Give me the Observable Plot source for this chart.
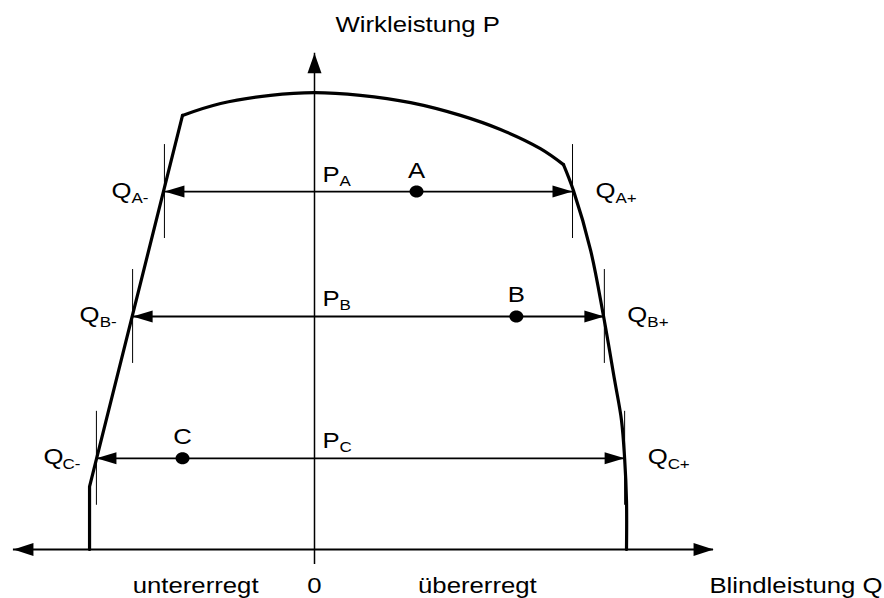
<!DOCTYPE html>
<html><head><meta charset="utf-8">
<script src="https://cdn.jsdelivr.net/npm/d3@7"></script>
<script src="https://cdn.jsdelivr.net/npm/@observablehq/plot@0.6"></script>
<style>html,body{margin:0;padding:0;background:#fff;overflow:hidden} #chart svg{display:block}</style>
</head><body><div id="chart"></div>
<script>
// Operating points (Q reactive power, P active power, normalised)
const rowNames = ["A", "B", "C"];
const rowP = [0.785, 0.511, 0.2];
const rowQMinus = [-0.481, -0.583, -0.699];
const rowQPlus = [0.827, 0.929, 0.994];
const pointQ = [0.327, 0.647, -0.423];

// Capability curve, three pieces
const leftQ = [-0.721, -0.721, -0.423];
const leftP = [0, 0.138, 0.952];
const topQ = [-0.423, -0.301, -0.141, 0, 0.147, 0.308, 0.468, 0.596, 0.724, 0.798];
const topP = [0.952, 0.978, 0.996, 1.002, 0.996, 0.980, 0.952, 0.921, 0.879, 0.844];
const rightQ = [0.798, 0.830, 0.885, 0.926, 0.962, 0.984, 0.994, 1.0, 1.0];
const rightP = [0.844, 0.787, 0.656, 0.513, 0.371, 0.283, 0.2, 0.107, 0];

// Axis extents
const axisQ = [-0.965, 1.279];
const axisP = [-0.033, 1.088];

// Texts
const bottomLabels = ["untererregt", "0", "übererregt"];
const bottomLabelQ = [-0.381, 0, 0.522];
const titleP = "Wirkleistung P";
const titleQ = "Blindleistung Q";
const titleQPos = 1.8205;

const idx = d3.range(rowNames.length);
const tickHalf = 0.103;
const FS = 22, SUB = 14.5;
const font = "'Liberation Sans', Arial, Helvetica, sans-serif";
const T = {fontFamily: font, fill: "black", lineAnchor: "bottom"};

function arrowSymbol(dx, dy, L, W) {
  return {draw(ctx) {
    const bx = -dx * L, by = -dy * L, px = -dy * W, py = dx * W;
    ctx.moveTo(0, 0); ctx.lineTo(bx + px, by + py); ctx.lineTo(bx - px, by - py); ctx.closePath();
  }};
}
const arrowRight = arrowSymbol(1, 0, 20, 6);
const arrowLeft = arrowSymbol(-1, 0, 20, 6);
const axRight = arrowSymbol(1, 0, 20, 6.5);
const axLeft = arrowSymbol(-1, 0, 20, 6.5);
const axUp = arrowSymbol(0, -1, 20, 7);
const ellipse = {draw(ctx) {
  const rx = 7, ry = 6, k = 0.5523;
  ctx.moveTo(rx, 0);
  ctx.bezierCurveTo(rx, ry * k, rx * k, ry, 0, ry);
  ctx.bezierCurveTo(-rx * k, ry, -rx, ry * k, -rx, 0);
  ctx.bezierCurveTo(-rx, -ry * k, -rx * k, -ry, 0, -ry);
  ctx.bezierCurveTo(rx * k, -ry, rx, -ry * k, rx, 0);
  ctx.closePath();
}};

const leftSeg = leftQ.map((q, i) => ({q, p: leftP[i]}));
const topSeg = topQ.map((q, i) => ({q, p: topP[i]}));
const rightSeg = rightQ.map((q, i) => ({q, p: rightP[i]}));
const curveStyle = {x: "q", y: "p", stroke: "black", strokeWidth: 3.2, strokeLinejoin: "round", strokeLinecap: "round"};

const svg = Plot.plot({
  width: 884, height: 598, margin: 0,
  x: {domain: [-1.00641, 1.82692], axis: null},
  y: {domain: [-0.10746, 1.20395], axis: null},
  style: {background: "white", color: "black"},
  marks: [
    // axes
    Plot.ruleX([0], {x: d => d, y1: axisP[0], y2: axisP[1], stroke: "black", strokeWidth: 1.5}),
    Plot.ruleY([0], {y: d => d, x1: axisQ[0], x2: axisQ[1], stroke: "black", strokeWidth: 1.8}),
    Plot.dot([{q: 0, p: axisP[1]}], {x: "q", y: "p", symbol: axUp, fill: "black", stroke: null}),
    Plot.dot([{q: axisQ[0], p: 0}], {x: "q", y: "p", symbol: axLeft, fill: "black", stroke: null}),
    Plot.dot([{q: axisQ[1], p: 0}], {x: "q", y: "p", symbol: axRight, fill: "black", stroke: null}),
    // capability curve
    Plot.line(leftSeg, {...curveStyle, curve: "linear"}),
    Plot.line(topSeg, {...curveStyle, curve: "catmull-rom"}),
    Plot.line(rightSeg, {...curveStyle, curve: "catmull-rom"}),
    // row arrows
    Plot.ruleY(idx, {y: d => rowP[d], x1: d => rowQMinus[d], x2: d => rowQPlus[d], stroke: "black", strokeWidth: 1.8}),
    Plot.ruleX(idx, {x: d => rowQMinus[d], y1: d => rowP[d] - tickHalf, y2: d => rowP[d] + tickHalf, stroke: "black", strokeWidth: 1}),
    Plot.ruleX(idx, {x: d => rowQPlus[d], y1: d => rowP[d] - tickHalf, y2: d => rowP[d] + tickHalf, stroke: "black", strokeWidth: 1}),
    Plot.dot(idx, {x: d => rowQMinus[d], y: d => rowP[d], symbol: arrowLeft, fill: "black", stroke: null}),
    Plot.dot(idx, {x: d => rowQPlus[d], y: d => rowP[d], symbol: arrowRight, fill: "black", stroke: null}),
    Plot.dot(idx, {x: d => pointQ[d], y: d => rowP[d], symbol: ellipse, fill: "black", stroke: null}),
    // point labels
    Plot.text(idx, {...T, x: d => pointQ[d], y: d => rowP[d], text: d => rowNames[d], dy: -14, textAnchor: "middle", fontSize: FS}),
    // P labels
    Plot.text(idx, {...T, x: d => 0, y: d => rowP[d], text: d => "P", dx: 8, dy: -10, textAnchor: "start", fontSize: FS}),
    Plot.text(idx, {...T, x: d => 0, y: d => rowP[d], text: d => rowNames[d], dx: 25, dy: -6, textAnchor: "start", fontSize: SUB}),
    // Q- labels
    Plot.text(idx, {...T, x: d => rowQMinus[d], y: d => rowP[d], text: d => "Q", dx: -33, dy: 6, textAnchor: "end", fontSize: FS}),
    Plot.text(idx, {...T, x: d => rowQMinus[d], y: d => rowP[d], text: d => rowNames[d] + "-", dx: -16, dy: 11, textAnchor: "end", fontSize: SUB}),
    // Q+ labels
    Plot.text(idx, {...T, x: d => rowQPlus[d], y: d => rowP[d], text: d => "Q", dx: 23, dy: 6, textAnchor: "start", fontSize: FS}),
    Plot.text(idx, {...T, x: d => rowQPlus[d], y: d => rowP[d], text: d => rowNames[d] + "+", dx: 43, dy: 11, textAnchor: "start", fontSize: SUB}),
    // axis titles
    Plot.text([titleP], {...T, x: d => 0, y: d => axisP[1], text: d => d, dx: 21, dy: -21, textAnchor: "start", fontSize: FS}),
    Plot.text(bottomLabels, {...T, x: (d, i) => bottomLabelQ[i], y: d => 0, text: d => d, dy: 44, textAnchor: "middle", fontSize: FS}),
    Plot.text([titleQ], {...T, x: d => titleQPos, y: d => 0, text: d => d, dy: 44, textAnchor: "end", fontSize: FS})
  ]
});

// the reference is horizontally stretched; widen the glyphs accordingly
d3.select(svg).selectAll("text").each(function() {
  const t = this.getAttribute("transform");
  if (t) this.setAttribute("transform", t + " scale(1.17,1)");
  else {
    const x = parseFloat(this.getAttribute("x")) || 0, y = parseFloat(this.getAttribute("y")) || 0;
    this.removeAttribute("x"); this.removeAttribute("y");
    this.setAttribute("transform", `translate(${x},${y}) scale(1.17,1)`);
  }
});
document.getElementById("chart").appendChild(svg);
</script>
</body></html>
